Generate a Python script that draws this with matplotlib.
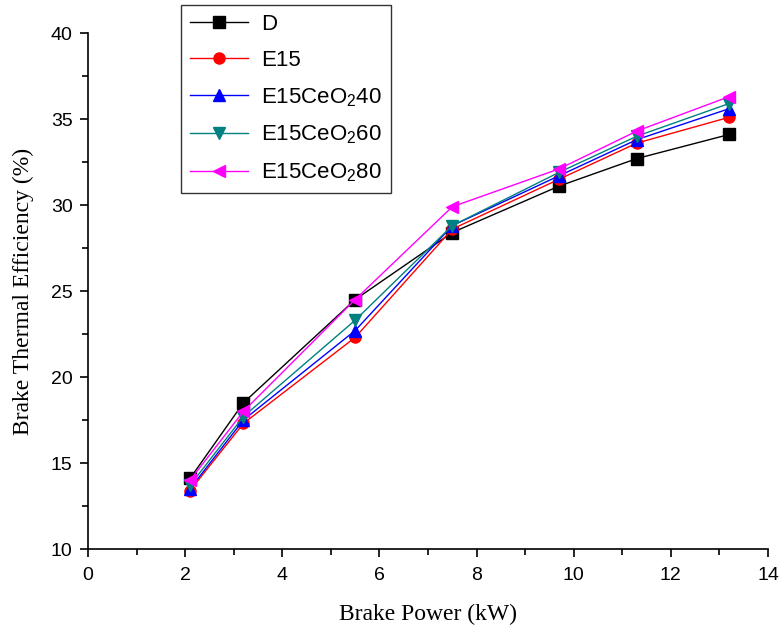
import matplotlib
matplotlib.use("Agg")
import matplotlib.pyplot as plt
from matplotlib.ticker import MultipleLocator

plt.rcParams['mathtext.default'] = 'regular'

power = [2.1, 3.2, 5.5, 7.5, 9.7, 11.3, 13.2]
labels = ['D', 'E15', 'E15CeO$_2$40', 'E15CeO$_2$60', 'E15CeO$_2$80']
bte_D = [14.1, 18.5, 24.5, 28.4, 31.1, 32.7, 34.1]
bte_E15 = [13.4, 17.3, 22.3, 28.6, 31.5, 33.6, 35.1]
bte_E40 = [13.5, 17.5, 22.7, 28.8, 31.7, 33.8, 35.6]
bte_E60 = [13.7, 17.7, 23.3, 28.8, 31.9, 34.0, 35.9]
bte_E80 = [14.0, 18.0, 24.5, 29.9, 32.1, 34.3, 36.3]
series = [bte_D, bte_E15, bte_E40, bte_E60, bte_E80]
colors = ['black', 'red', 'blue', '#008080', 'magenta']
markers = ['s', 'o', '^', 'v', '<']

fig = plt.figure(figsize=(7.81, 6.32), dpi=100)
ax = fig.add_axes([88/781, 1-549/632, (768-88)/781, (549-33)/632])

for y, lab, c, m in zip(series, labels, colors, markers):
    ax.plot(power, y, color=c, marker=m, markersize=8, linewidth=1, label=lab,
            markeredgecolor=c, markerfacecolor=c)

ax.set_xlim(0, 14)
ax.set_ylim(10, 40)
ax.xaxis.set_major_locator(MultipleLocator(2))
ax.xaxis.set_minor_locator(MultipleLocator(1))
ax.yaxis.set_major_locator(MultipleLocator(5))
ax.yaxis.set_minor_locator(MultipleLocator(2.5))
ax.spines['top'].set_visible(False)
ax.spines['right'].set_visible(False)
for s in ['left', 'bottom']:
    ax.spines[s].set_linewidth(1.2)
ax.tick_params(which='major', direction='out', length=6, width=1.2)
ax.tick_params(which='minor', direction='out', length=4, width=1.2)
ax.tick_params(axis='x', which='major', pad=7)
ax.tick_params(axis='y', which='major', pad=5)
for t in ax.get_xticklabels() + ax.get_yticklabels():
    t.set_fontfamily('Liberation Sans')
    t.set_fontsize(14)

ax.set_xlabel('Brake Power (kW)', fontfamily='Liberation Serif', fontsize=17, labelpad=14)
ax.set_ylabel('Brake Thermal Efficiency (%)', fontfamily='Liberation Serif', fontsize=17, labelpad=12)

leg = ax.legend(loc='upper left', bbox_to_anchor=(181/781, 1-5/632), bbox_transform=fig.transFigure,
                prop={'family': 'Liberation Sans', 'size': 16}, frameon=True, fancybox=False,
                handlelength=2.6, borderpad=0.4, labelspacing=0.68, handletextpad=0.6,
                borderaxespad=0)
leg.get_frame().set_edgecolor('black')
leg.get_frame().set_linewidth(1)

fig.savefig('out.png', dpi=100)
